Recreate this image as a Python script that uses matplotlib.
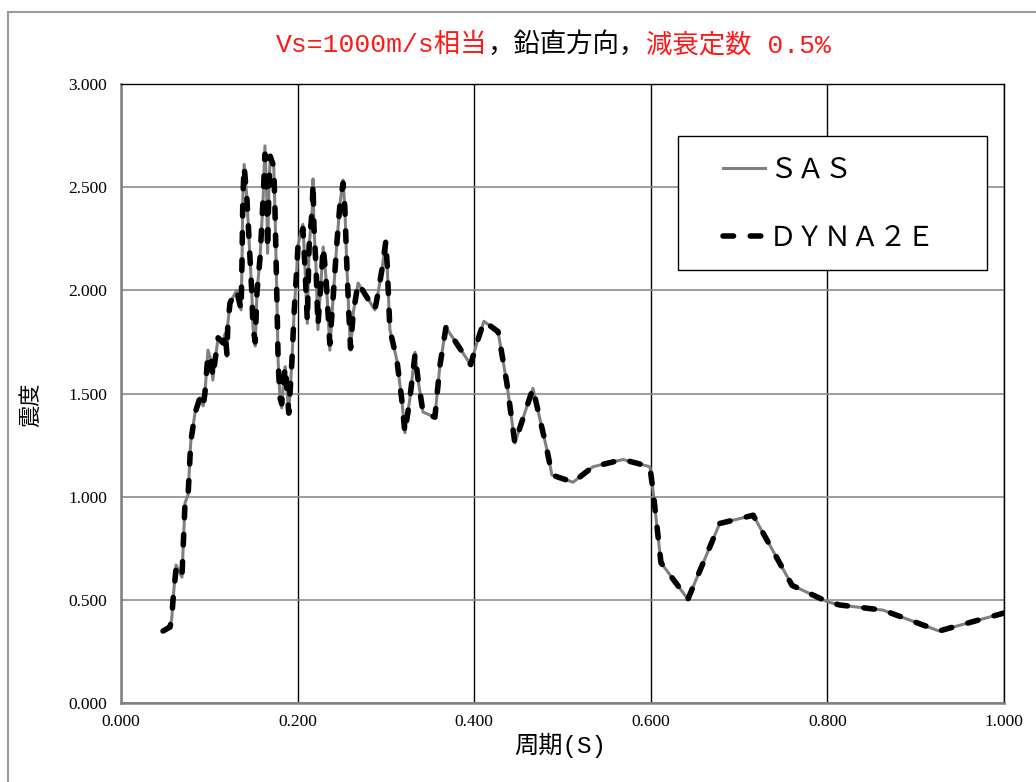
import matplotlib
matplotlib.use("Agg")
import matplotlib.pyplot as plt
from matplotlib.patches import Rectangle
import numpy as np

# ---------------- data ----------------
period = [0.0476, 0.0555, 0.0575, 0.0589, 0.0623, 0.0690, 0.0725, 0.0760, 0.0790, 0.0838,
          0.0895, 0.0930, 0.0950, 0.0985, 0.1020, 0.1040, 0.1065, 0.1100, 0.1155, 0.1180,
          0.1200, 0.1210, 0.1235, 0.1310, 0.1360, 0.1370, 0.1380, 0.1395, 0.1425, 0.1440,
          0.1480, 0.1495, 0.1520, 0.1540, 0.1575, 0.1610, 0.1630, 0.1650, 0.1660, 0.1675,
          0.1690, 0.1730, 0.1745, 0.1765, 0.1780, 0.1800, 0.1820, 0.1840, 0.1860, 0.1880,
          0.1900, 0.1935, 0.1960, 0.1990, 0.2005, 0.2060, 0.2085, 0.2110, 0.2130, 0.2165,
          0.2175, 0.2185, 0.2210, 0.2230, 0.2265, 0.2290, 0.2320, 0.2345, 0.2365, 0.2400,
          0.2445, 0.2480, 0.2515, 0.2535, 0.2555, 0.2580, 0.2600, 0.2630, 0.2685, 0.2875,
          0.2910, 0.2955, 0.3000, 0.3015, 0.3045, 0.3125, 0.3180, 0.3215, 0.3270, 0.3330,
          0.3365, 0.3420, 0.3555, 0.3610, 0.3680, 0.3960, 0.4030, 0.4110, 0.4270, 0.4370,
          0.4460, 0.4665, 0.4825, 0.4880, 0.5120, 0.5345, 0.5685, 0.5990, 0.6025, 0.6115,
          0.6420, 0.6780, 0.7160, 0.7600, 0.8005, 0.8140, 0.8630, 0.9265, 1.0000]

sas = [0.349, 0.368, 0.410, 0.500, 0.669, 0.610, 0.970, 1.010, 1.265, 1.405,
       1.480, 1.440, 1.500, 1.710, 1.660, 1.565, 1.660, 1.770, 1.745, 1.790,
       1.680, 1.840, 1.940, 2.000, 1.905, 2.130, 2.450, 2.610, 2.450, 2.330,
       2.000, 1.820, 1.730, 1.990, 2.160, 2.450, 2.700, 2.470, 2.180, 2.490,
       2.650, 2.600, 2.370, 1.970, 1.650, 1.480, 1.430, 1.550, 1.630, 1.520,
       1.405, 1.650, 1.890, 2.100, 2.220, 2.320, 2.100, 1.840, 2.210, 2.390,
       2.540, 2.310, 2.100, 1.810, 2.040, 2.210, 2.070, 1.890, 1.710, 1.950,
       2.230, 2.420, 2.535, 2.400, 2.150, 1.890, 1.710, 1.890, 2.035, 1.905,
       1.985, 2.100, 2.240, 2.115, 1.810, 1.660, 1.470, 1.310, 1.470, 1.700,
       1.565, 1.410, 1.385, 1.630, 1.820, 1.640, 1.745, 1.850, 1.800, 1.550,
       1.260, 1.525, 1.225, 1.105, 1.070, 1.145, 1.180, 1.145, 1.030, 0.680,
       0.503, 0.870, 0.910, 0.570, 0.490, 0.475, 0.450, 0.349, 0.436]

dyna2e = [0.349, 0.368, 0.410, 0.500, 0.650, 0.610, 0.970, 1.010, 1.265, 1.405,
          1.480, 1.440, 1.500, 1.690, 1.660, 1.580, 1.660, 1.770, 1.745, 1.790,
          1.690, 1.840, 1.940, 2.000, 1.905, 2.130, 2.450, 2.600, 2.450, 2.330,
          2.000, 1.820, 1.750, 1.990, 2.160, 2.450, 2.660, 2.470, 2.200, 2.490,
          2.650, 2.600, 2.370, 1.970, 1.650, 1.480, 1.450, 1.550, 1.630, 1.520,
          1.405, 1.650, 1.890, 2.100, 2.220, 2.300, 2.100, 1.850, 2.210, 2.390,
          2.520, 2.310, 2.100, 1.830, 2.040, 2.210, 2.070, 1.890, 1.740, 1.950,
          2.230, 2.420, 2.520, 2.400, 2.150, 1.890, 1.720, 1.890, 2.035, 1.905,
          1.985, 2.100, 2.240, 2.115, 1.810, 1.660, 1.470, 1.310, 1.470, 1.690,
          1.565, 1.410, 1.385, 1.630, 1.820, 1.640, 1.745, 1.850, 1.800, 1.550,
          1.260, 1.525, 1.225, 1.105, 1.070, 1.145, 1.180, 1.145, 1.030, 0.680,
          0.503, 0.870, 0.910, 0.570, 0.490, 0.475, 0.450, 0.349, 0.436]

series_labels = ["ＳＡＳ", "ＤＹＮＡ２Ｅ"]
xticks = [0.0, 0.2, 0.4, 0.6, 0.8, 1.0]
yticks = [0.0, 0.5, 1.0, 1.5, 2.0, 2.5, 3.0]
title_parts = ["Vs=1000m/s相当", "，鉛直方向，", "減衰定数 0.5%"]
title_colors = ["#ff1a1a", "black", "#ff1a1a"]
xlabel = "周期(S)"
ylabel = "震度"

# ---------------- figure ----------------
CJK = ["Noto Sans CJK JP", "DejaVu Sans"]
LAT = ["Liberation Serif", "Noto Sans CJK JP"]
MONO = ["Liberation Mono", "Noto Sans CJK JP"]

fig = plt.figure(figsize=(10.36, 7.82), dpi=100)
fig.patch.set_facecolor("white")
W, H = 1036, 782
ax = fig.add_axes([121 / W, 1 - 703 / H, (1004 - 121) / W, (703 - 84) / H])

# outer frame
fig.patches.append(Rectangle((8 / W, -0.05), 1.2, 1 - 12 / H + 0.05, transform=fig.transFigure,
                             fill=False, edgecolor="#9a9a9a", linewidth=1.5, zorder=0))

ax.set_xlim(0, 1.0)
ax.set_ylim(0, 3.0)
ax.set_xticks(xticks)
ax.set_yticks(yticks)
ax.set_xticklabels([f"{v:.3f}" for v in xticks], family=LAT, fontsize=12.5)
ax.set_yticklabels([f"{v:.3f}" for v in yticks], family=LAT, fontsize=12.5)
ax.tick_params(axis="both", length=0)
ax.tick_params(axis="y", pad=10)
ax.tick_params(axis="x", pad=8)

# grid lines
ax.yaxis.grid(True, color="#8c8c8c", linewidth=1.2, zorder=0)
ax.xaxis.grid(True, color="black", linewidth=1.0, zorder=0)
ax.set_axisbelow(True)

for s in ["top", "right"]:
    ax.spines[s].set_color("black")
    ax.spines[s].set_linewidth(1.0)
for s in ["left", "bottom"]:
    ax.spines[s].set_color("#808080")
    ax.spines[s].set_linewidth(1.8)

# data lines
ax.plot(period, sas, color="#808080", linewidth=2.2, label=series_labels[0], zorder=3,
        solid_joinstyle="round")
ax.plot(period, dyna2e, color="black", linewidth=4.0, linestyle=(0, (1.9, 3.0)),
        dash_capstyle="round", label=series_labels[1], zorder=4)

# axis labels
ax.set_xlabel(xlabel, family=MONO, fontsize=17.5)
ax.xaxis.set_label_coords((560 - 121) / 883, (703 - 733) / 619)
ax.set_ylabel(ylabel, family=CJK, fontsize=16)
ax.yaxis.set_label_coords((42 - 121) / 883, (703 - 405) / 619)

# title in three colored pieces
t = fig.text(276 / W, 1 - 45 / H, title_parts[0], color=title_colors[0], family=MONO,
             fontsize=19, ha="left", va="center")
prev = t
for part, col in zip(title_parts[1:], title_colors[1:]):
    prev = ax.annotate(part, xy=(1, 0), xycoords=prev, ha="left", va="bottom",
                       color=col, family=MONO, fontsize=19, annotation_clip=False)

# legend box
ax.add_patch(Rectangle(((678 - 121) / 883, (703 - 270) / 619), (987 - 678) / 883, (270 - 136) / 619,
                       transform=ax.transAxes, facecolor="white", edgecolor="black",
                       linewidth=1.0, zorder=5))
leg = ax.legend(loc="upper left", bbox_to_anchor=((723 - 121) / 883, (703 - 155) / 619),
                frameon=False, borderpad=0, borderaxespad=0, handlelength=1.5,
                handletextpad=0.15, labelspacing=1.37, prop={"family": CJK, "size": 20})
leg.set_zorder(6)

fig.savefig("out.png", dpi=100)
